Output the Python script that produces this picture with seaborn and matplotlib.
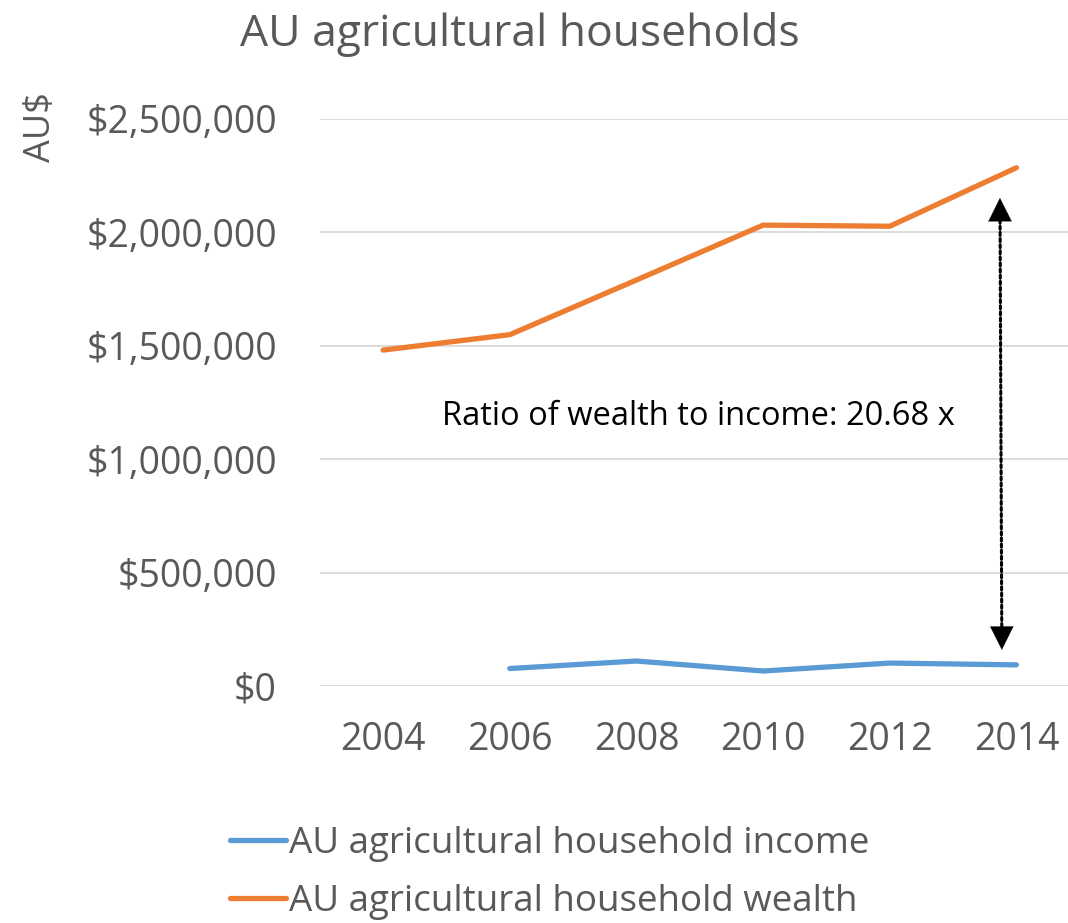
import numpy as np
import pandas as pd
import matplotlib
matplotlib.use("Agg")
import matplotlib.pyplot as plt
import seaborn as sns

years = ["2004", "2006", "2008", "2010", "2012", "2014"]
income = [np.nan, 77000, 110000, 66000, 101000, 93000]
wealth = [1481000, 1549000, 1790000, 2032000, 2027000, 2285000]
series_names = ["AU agricultural household income", "AU agricultural household wealth"]
yticks = [0, 500000, 1000000, 1500000, 2000000, 2500000]

sns.set_theme(style="white")
plt.rcParams['font.family'] = ['Open Sans', 'DejaVu Sans']

grey = "#595959"
colors = {series_names[0]: "#5B9BD5", series_names[1]: "#ED7D31"}

df = pd.DataFrame({
    "pos": list(range(len(years))) * 2,
    "value": income + wealth,
    "series": [series_names[0]] * len(years) + [series_names[1]] * len(years),
})

fig = plt.figure(figsize=(10.68, 9.23), dpi=100)
ax = fig.add_axes([0.2995, 0.2568, 0.7115, 0.6143])

sns.lineplot(data=df, x="pos", y="value", hue="series", palette=colors,
             linewidth=3.8, ax=ax, legend=False, solid_capstyle="round")

ax.set_xlim(-0.5, len(years) - 0.5)
ax.set_ylim(0, 2500000)
ax.set_yticks(yticks)
ax.set_yticklabels(["${:,}".format(v) for v in yticks])
ax.set_xticks(range(len(years)))
ax.set_xticklabels(years)
ax.tick_params(axis="both", labelsize=27, colors=grey, length=0)
ax.tick_params(axis="y", pad=31)
ax.tick_params(axis="x", pad=25)
ax.yaxis.grid(True, color="#D9D9D9", linewidth=1.3)
ax.set_axisbelow(True)
for s in ax.spines.values():
    s.set_visible(False)
ax.axhline(0, color="#D9D9D9", linewidth=1.3, zorder=0)
ax.set_xlabel("")
ax.set_ylabel("")

# double arrow showing the gap: dotted shaft plus solid heads
top = (4.87, 2152000)
bot = (4.885, 159000)
ax.annotate("", xy=top, xytext=bot,
            arrowprops=dict(arrowstyle="-", linestyle=(0, (1, 1)), color="black",
                            lw=2.2, shrinkA=8, shrinkB=8))
for tip, base in [(top, (4.871, 2000000)), (bot, (4.884, 311000))]:
    ax.annotate("", xy=tip, xytext=base,
                arrowprops=dict(arrowstyle="-|>,head_length=0.6,head_width=0.3", color="black",
                                lw=0.1, mutation_scale=28, shrinkA=0, shrinkB=0))
ax.text(2.49, 1186000, "Ratio of wealth to income: 20.68 x", ha="center", va="center",
        fontsize=23.5, color="black")

fig.text(0.487, 0.963, "AU agricultural households", ha="center", va="center",
         fontsize=32, color=grey)
fig.text(0.038, 0.862, "AU$", rotation=90, ha="center", va="center", fontsize=26, color=grey)

# legend
handles = [plt.Line2D([], [], color=colors[n], linewidth=3.8, solid_capstyle="round") for n in series_names]
fig.legend(handles, series_names, loc="center", bbox_to_anchor=(0.515, 0.054), ncol=1,
           frameon=False, fontsize=26.5, handlelength=1.5, handletextpad=0.1,
           labelspacing=0.6, labelcolor=grey)

fig.savefig("out.png", dpi=100)
